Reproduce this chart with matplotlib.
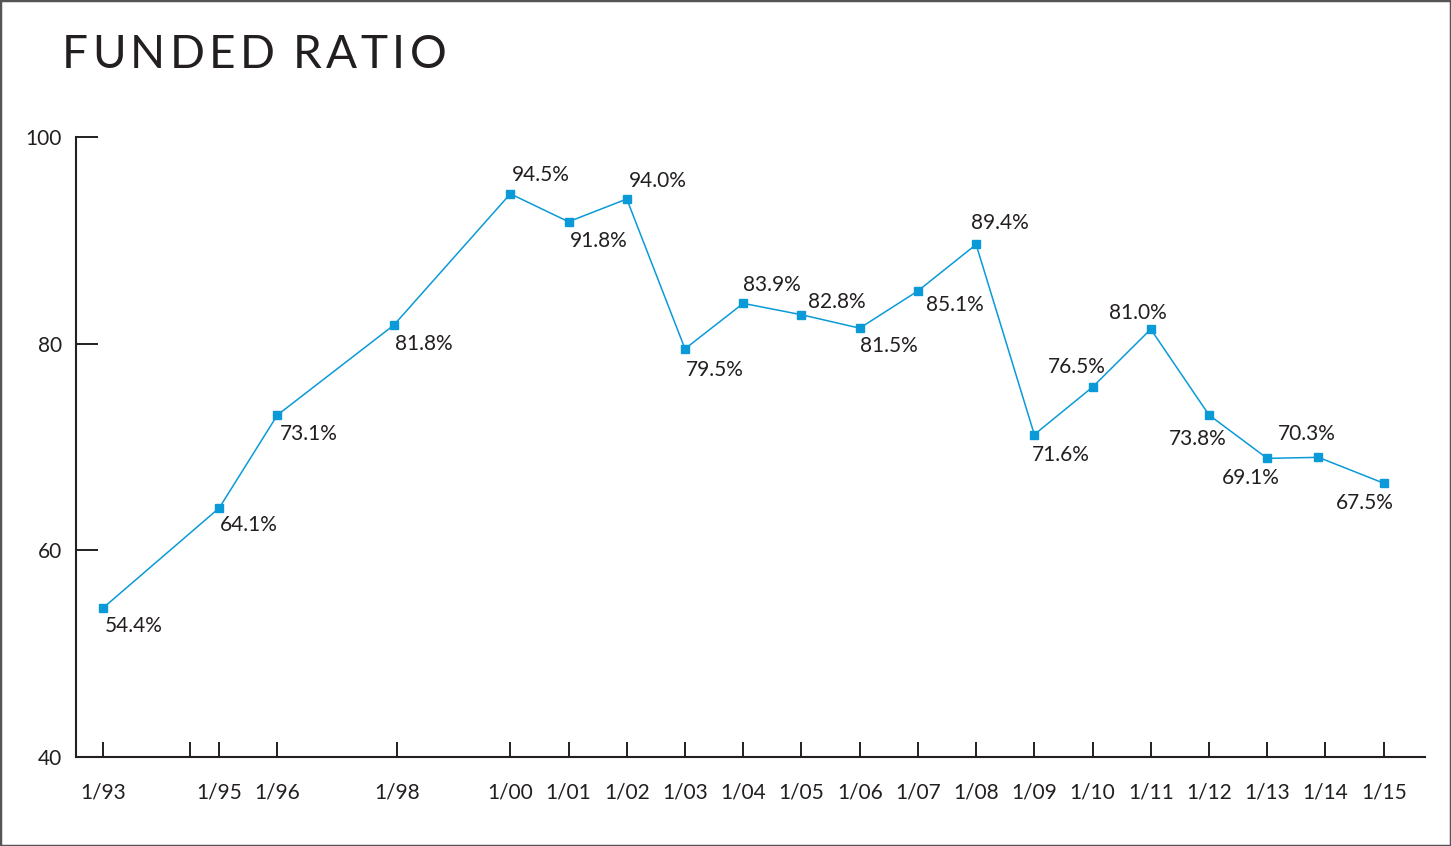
import numpy as np
import matplotlib.pyplot as plt
from matplotlib.patches import Rectangle

plt.rcParams['font.family'] = ['Lato', 'DejaVu Sans']

# data ---
years = [1993, 1995, 1996, 1998, 2000, 2001, 2002, 2003, 2004, 2005, 2006,
         2007, 2008, 2009, 2010, 2011, 2012, 2013, 2013.88, 2015]
ratio = [54.4, 64.1, 73.1, 81.8, 94.5, 91.8, 94.0, 79.5, 83.9, 82.8, 81.5,
         85.1, 89.6, 71.2, 75.8, 81.4, 73.1, 68.9, 69.0, 66.5]
labels = ['54.4%', '64.1%', '73.1%', '81.8%', '94.5%', '91.8%', '94.0%', '79.5%',
          '83.9%', '82.8%', '81.5%', '85.1%', '89.4%', '71.6%', '76.5%', '81.0%',
          '73.8%', '69.1%', '70.3%', '67.5%']
tick_years = [1993, 1994.5, 1995, 1996, 1998.05, 2000, 2001, 2002, 2003, 2004, 2005,
              2006, 2007, 2008, 2009, 2010, 2011, 2012, 2013, 2014, 2015]
tick_labels = ['1/93', '', '1/95', '1/96', '1/98', '1/00', '1/01', '1/02', '1/03',
               '1/04', '1/05', '1/06', '1/07', '1/08', '1/09', '1/10', '1/11',
               '1/12', '1/13', '1/14', '1/15']
y_ticks = [40, 60, 80, 100]
title = 'FUNDED RATIO'

# label offsets in pixels (dx, dy down)
offs = [(31, 18), (30, 17), (31, 19), (30, 19), (30, -19), (30, 19), (31, -18),
        (30, 21), (29, -18), (35, -13), (29, 18), (37, 14), (24, -21), (26, 20),
        (-16, -20), (-13, -16), (-11, 24), (-16, 20), (-12, -23), (-19, 20)]

W, H = 1451, 846
fig = plt.figure(figsize=(W/100, H/100), dpi=100)
ax = fig.add_axes([76/W, 1-757/H, (1425-76)/W, (757-137)/H])

blue = '#0a9ad8'
ink = '#231f20'
ax.plot(years, ratio, color=blue, lw=1.1, marker='s', ms=5.5, mec=blue, mfc=blue)

for x, y, t, (dx, dy) in zip(years, ratio, labels, offs):
    ax.annotate(t, (x, y), xytext=(dx, -dy), textcoords='offset pixels',
                ha='center', va='center', fontsize=15, color=ink)

ax.set_xlim(1992.54, 2015.71)
ax.set_ylim(40, 100)
ax.set_xticks(tick_years)
ax.set_xticklabels(tick_labels)
ax.set_yticks(y_ticks)
for s in ['top', 'right']:
    ax.spines[s].set_visible(False)
for s in ['left', 'bottom']:
    ax.spines[s].set_linewidth(1.5)
    ax.spines[s].set_color(ink)
ax.tick_params(axis='x', direction='in', length=11, width=1.4, pad=18,
               labelsize=15, colors=ink)
ax.tick_params(axis='y', direction='in', length=16, width=1.4, pad=10,
               labelsize=15, colors=ink)

# title with letter spacing, one char at a time
r = fig.canvas.get_renderer()
xpos = 62
track = 4.3
for ch in title:
    t = fig.text(xpos/W, 1-68/H, ch, fontsize=33, color=ink, ha='left',
                 va='baseline')
    if ch == ' ':
        w = 9
    else:
        w = t.get_window_extent(renderer=r).width
    xpos += w + track

fig.patches.append(Rectangle((0, 0), 1, 1, transform=fig.transFigure,
                             fill=False, ec='#555555', lw=2.5))

plt.savefig('out.png', dpi=100)
